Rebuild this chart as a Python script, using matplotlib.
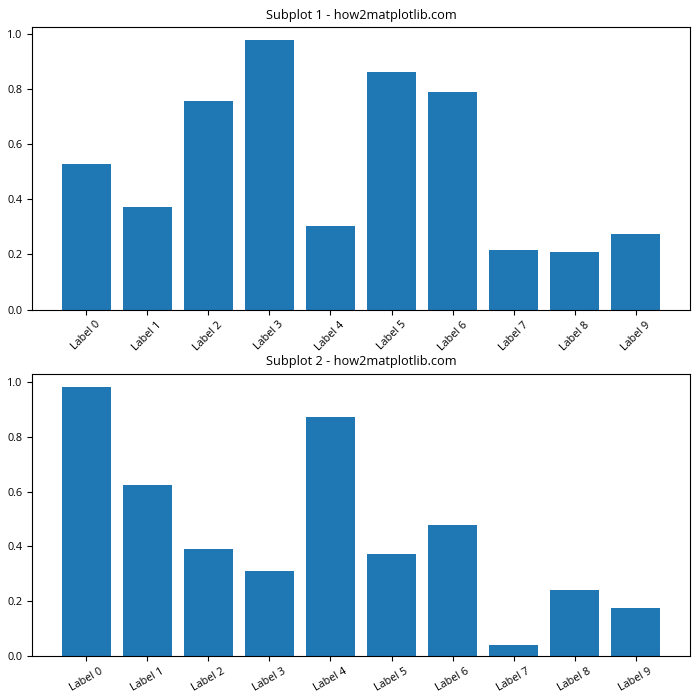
import matplotlib
matplotlib.use("Agg")
import matplotlib.pyplot as plt

plt.rcParams['font.family'] = ['Open Sans', 'DejaVu Sans']
plt.rcParams['font.size'] = 10

labels = [f"Label {i}" for i in range(10)]
values1 = [0.529, 0.373, 0.757, 0.975, 0.304, 0.862, 0.790, 0.214, 0.210, 0.272]
values2 = [0.982, 0.624, 0.390, 0.310, 0.872, 0.372, 0.478, 0.040, 0.241, 0.175]

fig, (ax1, ax2) = plt.subplots(2, 1, figsize=(7, 7), dpi=100)

ax1.bar(labels, values1)
ax1.set_title("Subplot 1 - how2matplotlib.com", fontsize=9.2)
ax1.tick_params(axis='x', labelrotation=45, labelsize=7.8)
ax1.tick_params(axis='y', labelsize=7.8)

ax2.bar(labels, values2)
ax2.set_title("Subplot 2 - how2matplotlib.com", fontsize=9.2)
ax2.tick_params(axis='x', labelrotation=30, labelsize=7.8)
ax2.tick_params(axis='y', labelsize=7.8)

fig.subplots_adjust(left=32/700, right=690/700, top=1-27/700, bottom=1-656/700,
                    hspace=64/282.5)
fig.savefig("out.png", dpi=100)
